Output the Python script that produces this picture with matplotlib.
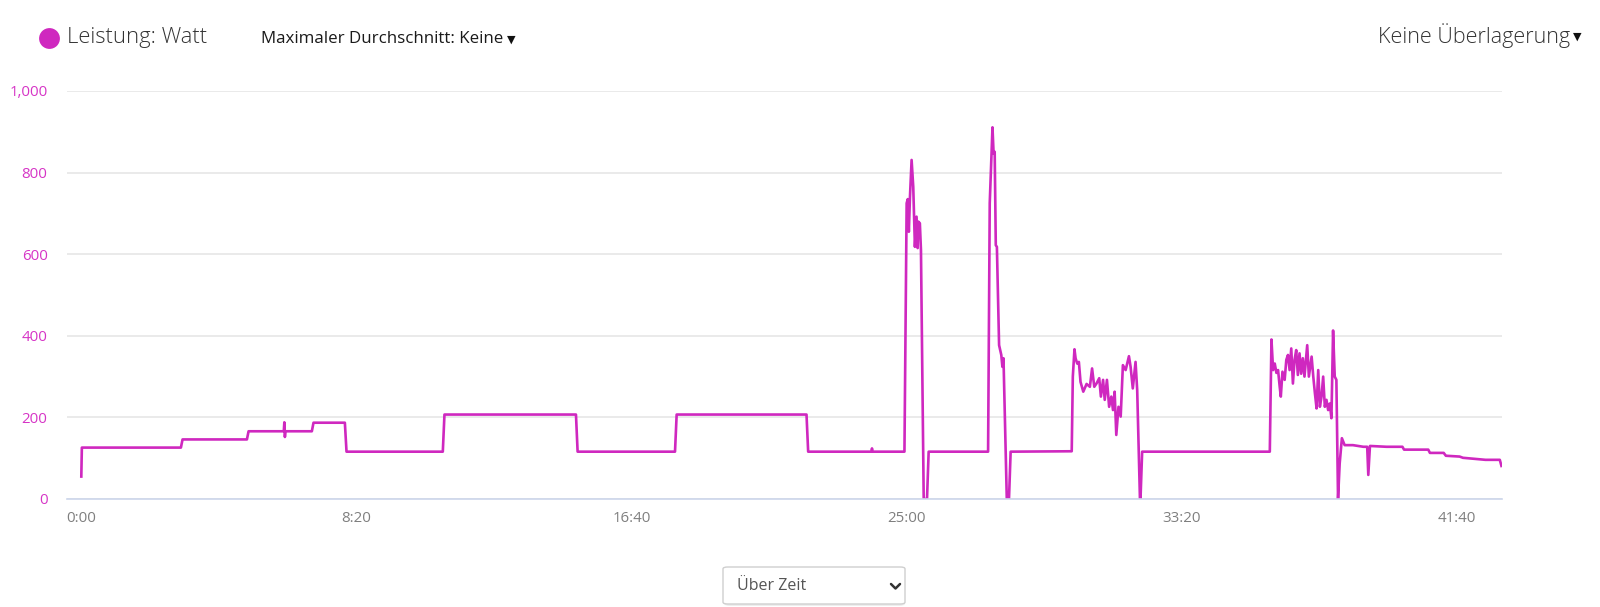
import matplotlib
matplotlib.use("Agg")
import matplotlib.pyplot as plt
from matplotlib.lines import Line2D
from matplotlib.patches import FancyBboxPatch
from matplotlib.ticker import FixedLocator

# ---------------- data (seconds, watts) ----------------
time_s = [0, 1, 181, 184, 301, 304, 368, 369, 370, 371, 419, 422, 479, 482,
          657, 660, 899, 902, 1079, 1082, 1318, 1321, 1436, 1437, 1438,
          1496, 1500, 1502, 1504, 1506, 1509, 1512, 1515, 1518, 1520, 1521, 1524, 1526,
          1531, 1537, 1540,
          1648, 1651, 1656, 1658, 1660, 1662, 1664, 1668, 1672, 1674, 1676, 1682, 1686, 1689,
          1800, 1802, 1805, 1807, 1810, 1813, 1816, 1821, 1827, 1833, 1837, 1841, 1845, 1850,
          1853, 1857, 1860, 1864, 1868, 1872, 1875, 1878, 1881, 1885, 1889, 1893, 1898, 1904,
          1907, 1911, 1916, 1919, 1924, 1925, 1928,
          2160, 2163, 2166, 2169, 2172, 2175, 2178, 2180, 2183, 2187, 2190, 2193, 2196, 2199,
          2202, 2205, 2208, 2211, 2214, 2217, 2220, 2223, 2228, 2231, 2236, 2239, 2242, 2245,
          2248, 2251, 2254, 2257, 2260, 2263, 2266, 2269, 2272, 2275, 2278, 2281, 2284, 2287,
          2291, 2296, 2311, 2330, 2337, 2339, 2342, 2372, 2401, 2404, 2448, 2451, 2476, 2480,
          2505, 2511, 2552, 2578, 2581]
power_w = [55, 126, 126, 146, 146, 166, 166, 188, 152, 166, 166, 187, 187, 116,
           116, 207, 207, 116, 116, 207, 207, 116, 116, 124, 116,
           116, 725, 735, 655, 740, 831, 765, 618, 692, 615, 680, 676, 610,
           0, 0, 116,
           116, 725, 911, 847, 851, 622, 618, 377, 353, 324, 345, 0, 0, 116,
           117, 300, 367, 345, 332, 336, 287, 263, 282, 275, 320, 275, 283, 296,
           251, 292, 243, 292, 226, 251, 218, 263, 157, 226, 202, 328, 316, 350,
           324, 271, 336, 267, 0, 0, 116,
           116, 391, 316, 332, 309, 316, 275, 251, 312, 292, 341, 353, 316, 369,
           283, 341, 365, 304, 357, 307, 345, 300, 377, 300, 349, 300, 259, 222,
           316, 226, 251, 300, 226, 243, 218, 234, 198, 413, 300, 292, 0, 87,
           149, 132, 132, 128, 128, 59, 130, 128, 128, 121, 121, 113, 113, 106,
           104, 101, 96, 96, 81]

y_ticks = [0, 200, 400, 600, 800, 1000]
y_tick_labels = ["0", "200", "400", "600", "800", "1,000"]
x_ticks = [0, 500, 1000, 1500, 2000, 2500]
x_tick_labels = ["0:00", "8:20", "16:40", "25:00", "33:20", "41:40"]

LINE = "#CF28BF"
FAM = ["Open Sans", "DejaVu Sans"]

W, H = 1600, 607
fig = plt.figure(figsize=(W / 100, H / 100), dpi=100)
fig.patch.set_facecolor("white")

def fx(x):
    return x / W

def fy(y):
    return 1 - y / H

ax = fig.add_axes([fx(67), fy(499), fx(1502) - fx(67), fy(91) - fy(499)])
ax.plot(time_s, power_w, color=LINE, lw=1.9, solid_joinstyle="round")
ax.set_xlim(-26, 2582)
ax.set_ylim(0, 1000)

ax.yaxis.set_major_locator(FixedLocator(y_ticks))
ax.set_yticklabels(y_tick_labels)
ax.xaxis.set_major_locator(FixedLocator(x_ticks))
ax.set_xticklabels(x_tick_labels)

ax.grid(axis="y", color="#e6e6e6", lw=1.2)
ax.set_axisbelow(True)
for s in ["top", "right", "left"]:
    ax.spines[s].set_visible(False)
ax.spines["bottom"].set_color("#ccd6eb")
ax.spines["bottom"].set_linewidth(1.2)
ax.tick_params(axis="both", length=0)
ax.tick_params(axis="y", pad=14, labelcolor="#D634C6", labelsize=10.8)
ax.tick_params(axis="x", pad=9, labelcolor="#7f7f7f", labelsize=10.8)
for lab in ax.get_yticklabels() + ax.get_xticklabels():
    lab.set_family(FAM)

# header
fig.add_artist(Line2D([fx(49)], [fy(38)], marker="o", markersize=15,
                      color=LINE, markeredgewidth=0))
fig.text(fx(67), fy(38), "Leistung: Watt", family=FAM, fontsize=15.8,
         fontweight="light", color="#333333", va="center", ha="left")
t_max = fig.text(fx(261), fy(39), "Maximaler Durchschnitt: Keine", family=FAM,
                 fontsize=12.2, color="#1a1a1a", va="center", ha="left")
fig.text(fx(1570), fy(36), "Keine Überlagerung", family=FAM, fontsize=15.5,
         fontweight="light", color="#333333", va="center", ha="right")
fig.text(fx(1573), fy(37), "\u25BC", family=["DejaVu Sans"], fontsize=8,
         color="#111111", va="center", ha="left")

fig.canvas.draw()
bb = t_max.get_window_extent(renderer=fig.canvas.get_renderer())
fig.text(fx(bb.x1 + 4), fy(40), "\u25BC", family=["DejaVu Sans"], fontsize=8,
         color="#111111", va="center", ha="left")

# dropdown box
shadow = FancyBboxPatch((fx(724), fy(606)), fx(905) - fx(724), fy(568) - fy(606),
                        boxstyle="round,pad=0,rounding_size=0.004",
                        transform=fig.transFigure, facecolor="#eeeeee",
                        edgecolor="none", zorder=1)
fig.add_artist(shadow)
box = FancyBboxPatch((fx(723), fy(604)), fx(905) - fx(723), fy(567) - fy(604),
                     boxstyle="round,pad=0,rounding_size=0.003",
                     transform=fig.transFigure, facecolor="white",
                     edgecolor="#cfcfcf", lw=1.0, zorder=2)
fig.add_artist(box)
fig.text(fx(737), fy(586), "Über Zeit", family=FAM, fontsize=11.5,
         color="#555555", va="center", ha="left", zorder=3)
fig.add_artist(Line2D([fx(891), fx(895.5), fx(900)], [fy(584), fy(588.5), fy(584)],
                      color="#333333", lw=1.8, zorder=3, solid_capstyle="round"))

fig.savefig("out.png", dpi=100, facecolor="white")
